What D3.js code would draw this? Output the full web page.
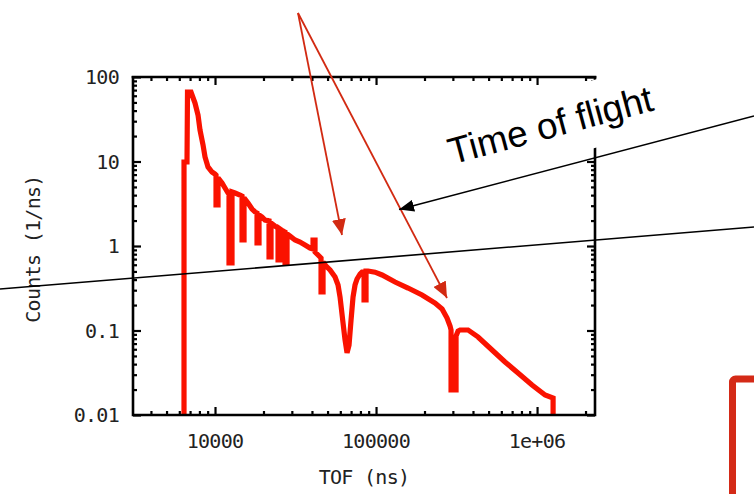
<!DOCTYPE html>
<html><head><meta charset="utf-8">
<script src="https://cdn.jsdelivr.net/npm/d3@7"></script>
<style>body{margin:0;background:#fff}svg{display:block}</style>
</head><body>
<svg id="c" width="754" height="494"></svg>
<script>
// ---- data (histogram outline, vertical drops are repeated x values) ----
const tofValues = [6419,6419,6699,6747,7094,7512,7842,8069,8424,8668,9047,9580,10000,10144,10144,10438,10438,11053,11537,12043,12216,12216,12752,12752,13311,14300,14716,14716,15143,15143,16034,16977,17721,18234,18234,18764,18764,19588,20446,21650,21650,22278,22278,23592,24627,24627,25342,25342,26454,27221,27221,28011,28011,29238,31399,33720,36226,38912,40619,40619,41798,41798,43632,45546,45546,46868,46868,48923,51795,55654,58080,59768,62387,64197,66061,67978,69951,71969,74058,76207,79548,81857,84233,84233,86676,86676,89191,98580,108960,131240,158060,193070,232530,257030,276060,288170,292320,292320,313990,313990,323110,332470,347060,372760,430110,525430,632730,762060,931000,1121300,1257600,1257600];
const countValues = [0.005,9.86,9.86,66.4,66.4,49.2,35.5,23.6,15.7,11.3,8.61,7.51,7.11,6.92,3.06,3.06,6.38,5.57,4.86,4.24,4.12,0.629,0.629,4.36,4.24,4.01,3.90,1.178,1.178,3.70,3.23,2.74,2.53,2.46,1.085,1.085,2.33,2.20,2.03,1.98,0.741,0.741,1.87,1.72,1.63,0.683,0.683,1.59,1.50,1.46,0.629,0.629,1.39,1.31,1.178,1.115,1.028,0.947,0.922,1.178,1.178,0.849,0.782,0.721,0.2855,0.2855,0.647,0.580,0.520,0.430,0.3455,0.249,0.1227,0.0772,0.0542,0.0674,0.1331,0.249,0.3455,0.407,0.466,0.492,0.492,0.2296,0.2296,0.506,0.506,0.49,0.454,0.375,0.318,0.263,0.2116,0.1797,0.1406,0.1131,0.1014,0.01976,0.01976,0.0861,0.0986,0.1014,0.1014,0.1014,0.0838,0.0588,0.0424,0.0314,0.02265,0.01724,0.01588,0.005];
const xTickValues = [1e4, 1e5, 1e6];
const xTickLabels = ["10000", "100000", "1e+06"];
const yTickValues = [0.01, 0.1, 1, 10, 100];
const yTickLabels = ["0.01", "0.1", "1", "10", "100"];
const xTitle = "TOF (ns)";
const yTitle = "Counts (1/ns)";
const noteText = "Time of flight";

const svg = d3.select("#c");
const L = 133, R = 595, T = 77, B = 415;
const x = d3.scaleLog().domain([3095, 2.29e6]).range([L, R]);
const y = d3.scaleLog().domain([0.01, 100]).range([B, T]);

const minorX = [], minorY = [];
[1e3,1e4,1e5,1e6].forEach(d => { for (let k=2;k<=9;k++){ const v=k*d; if (v>x.domain()[0] && v<x.domain()[1]) minorX.push(v);} });
[0.01,0.1,1,10].forEach(d => { for (let k=2;k<=9;k++) minorY.push(k*d); });

const defs = svg.append("defs");
defs.append("clipPath").attr("id","plot").append("rect")
  .attr("x",L).attr("y",T).attr("width",R-L).attr("height",B-T);
function marker(id,color,len,wid){
  defs.append("marker").attr("id",id).attr("markerUnits","userSpaceOnUse")
    .attr("viewBox",`0 0 ${len} ${wid}`).attr("refX",len).attr("refY",wid/2)
    .attr("markerWidth",len).attr("markerHeight",wid).attr("orient","auto")
    .append("path").attr("d",`M0,0L${len},${wid/2}L0,${wid}Z`).attr("fill",color);
}
marker("ar","#d22a12",16,14);
marker("ak","#000",15,12);

// curve
const pts = tofValues.map((t,i)=>[t,countValues[i]]);
svg.append("path").datum(pts).attr("clip-path","url(#plot)")
  .attr("d", d3.line().x(d=>x(d[0])).y(d=>y(d[1])))
  .attr("fill","none").attr("stroke","#fa1200").attr("stroke-width",5.2)
  .attr("stroke-linejoin","miter").attr("stroke-miterlimit",3);

// axes (ticks inward, gnuplot style)
function ax(fn, scale, vals, size, tr){
  const g = svg.append("g").attr("transform",tr)
    .call(fn(scale).tickValues(vals).tickSize(size).tickFormat(""));
  g.select(".domain").remove();
  g.selectAll("line").attr("stroke","#000").attr("stroke-width",2.2);
  return g;
}
ax(d3.axisBottom, x, xTickValues, -8, `translate(0,${B})`);
ax(d3.axisBottom, x, minorX, -4, `translate(0,${B})`);
ax(d3.axisLeft, y, yTickValues, -8, `translate(${L},0)`);
ax(d3.axisLeft, y, minorY, -4, `translate(${L},0)`);
ax(d3.axisRight, y, yTickValues, -8, `translate(${R},0)`);
ax(d3.axisRight, y, minorY, -4, `translate(${R},0)`);
svg.append("path").attr("d",`M${L},${T-1}V${B}H${R}V${T-1}`)
  .attr("fill","none").attr("stroke","#000").attr("stroke-width",2.6);

// white text box of the annotation
const note = svg.append("g").attr("transform","translate(452,164.5) rotate(-15)");
note.append("rect").attr("x",-8).attr("y",-45).attr("width",240).attr("height",66).attr("fill","#fff");

// top axis drawn over the box
ax(d3.axisTop, x, xTickValues, -8, `translate(0,${T})`);
ax(d3.axisTop, x, minorX, -4, `translate(0,${T})`);
svg.append("line").attr("x1",L-1.3).attr("x2",R+1.3).attr("y1",T).attr("y2",T)
  .attr("stroke","#000").attr("stroke-width",2.6);

note.append("text").text(noteText).attr("x",0).attr("y",0)
  .attr("font-family","Liberation Sans, Arial, sans-serif").attr("font-size",37).attr("fill","#000");

// tick labels
const mono = "DejaVu Sans Mono, monospace";
svg.append("g").selectAll("text").data(xTickValues).join("text")
  .attr("x",d=>x(d)).attr("y",447.5).attr("text-anchor","middle")
  .attr("font-family",mono).attr("font-size",20).attr("letter-spacing",-0.7).attr("fill","#222")
  .text((d,i)=>xTickLabels[i]);
svg.append("g").selectAll("text").data(yTickValues).join("text")
  .attr("x",119).attr("y",d=>y(d)+7.2).attr("text-anchor","end")
  .attr("font-family",mono).attr("font-size",20).attr("letter-spacing",-0.7).attr("fill","#222")
  .text((d,i)=>yTickLabels[i]);
svg.append("text").text(xTitle).attr("x",(L+R)/2).attr("y",483.5).attr("text-anchor","middle")
  .attr("font-family",mono).attr("font-size",20).attr("letter-spacing",-0.7).attr("fill","#222");
svg.append("text").text(yTitle).attr("transform","translate(40,249) rotate(-90)").attr("text-anchor","middle")
  .attr("font-family",mono).attr("font-size",20).attr("letter-spacing",-0.7).attr("fill","#222");

// annotation lines
const redFrom = [298, 13];
const redTips = [[342, 235], [447, 298]];
redTips.forEach(t => svg.append("line").attr("x1",redFrom[0]).attr("y1",redFrom[1]).attr("x2",t[0]).attr("y2",t[1])
  .attr("stroke","#d22a12").attr("stroke-width",1.8).attr("marker-end","url(#ar)"));
svg.append("line").attr("x1",754).attr("y1",116).attr("x2",399).attr("y2",209.5)
  .attr("stroke","#000").attr("stroke-width",1.6).attr("marker-end","url(#ak)");
svg.append("line").attr("x1",0).attr("y1",289).attr("x2",754).attr("y2",227)
  .attr("stroke","#000").attr("stroke-width",1.6);

// red frame at lower right
svg.append("rect").attr("x",732.5).attr("y",379).attr("width",60).attr("height",150).attr("rx",3)
  .attr("fill","none").attr("stroke","#d42a17").attr("stroke-width",7);
</script>
</body></html>
